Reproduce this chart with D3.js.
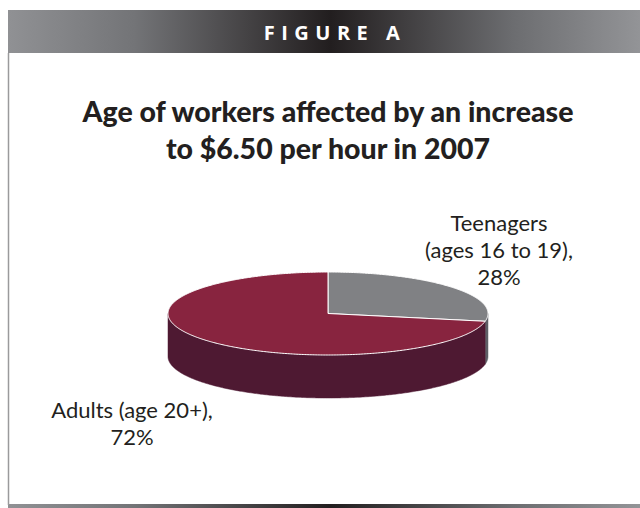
<!DOCTYPE html>
<html>
<head>
<meta charset="utf-8">
<script src="https://cdn.jsdelivr.net/npm/d3@7"></script>
<style>
  html, body { margin: 0; padding: 0; background: #fff; }
  svg { display: block; }
</style>
</head>
<body>
<svg id="chart" width="640" height="508"></svg>
<script>
const figureLabel = "FIGURE A";
const titleLines = ["Age of workers affected by an increase", "to $6.50 per hour in 2007"];
const categories = ["Teenagers (ages 16 to 19)", "Adults (age 20+)"];
const values = [28, 72];
const labelLines = [["Teenagers", "(ages 16 to 19),", "28%"], ["Adults (age 20+),", "72%"]];
const topColors = ["#808184", "#88243f"];
const sideColors = ["#5d5f66", "#4e1932"];

const svg = d3.select("#chart");
const W = 640, H = 508;

const defs = svg.append("defs");
const grad = defs.append("linearGradient").attr("id", "barGrad")
  .attr("x1", "0%").attr("x2", "100%").attr("y1", "0%").attr("y2", "0%");
grad.append("stop").attr("offset", "0%").attr("stop-color", "#909194");
grad.append("stop").attr("offset", "20%").attr("stop-color", "#737477");
grad.append("stop").attr("offset", "51%").attr("stop-color", "#221e1f");
grad.append("stop").attr("offset", "80%").attr("stop-color", "#6c6d70");
grad.append("stop").attr("offset", "100%").attr("stop-color", "#939497");

svg.append("rect").attr("x", 8).attr("y", 10).attr("width", W - 8).attr("height", 43).attr("fill", "url(#barGrad)");
svg.append("rect").attr("x", 8).attr("y", 504).attr("width", W - 8).attr("height", 4).attr("fill", "url(#barGrad)");
svg.append("line").attr("x1", 8.5).attr("x2", 8.5).attr("y1", 53).attr("y2", 505)
  .attr("stroke", "#9a9a9c").attr("stroke-width", 1.5);

svg.append("text").attr("x", 335).attr("y", 40)
  .attr("text-anchor", "middle")
  .attr("font-family", "'Open Sans', sans-serif").attr("font-weight", 700)
  .attr("font-size", 20).attr("letter-spacing", 6.5).attr("fill", "#fff")
  .text(figureLabel);

const title = svg.append("text").attr("text-anchor", "middle")
  .attr("font-family", "Lato, 'Open Sans', sans-serif").attr("font-weight", 900)
  .attr("font-size", 28.5).attr("fill", "#231f20");
titleLines.forEach((t, i) => {
  title.append("tspan").attr("x", 328).attr("y", 122 + i * 37).text(t);
});

const cx = 328, cy = 313.5, rx = 160, ry = 41.5, depth = 43;
const pie = d3.pie().sort(null).value(d => d)(values);
const px = a => cx + rx * Math.sin(a);
const py = a => cy - ry * Math.cos(a);

function arcPoints(a0, a1, dy) {
  const n = Math.max(2, Math.ceil((a1 - a0) / 0.01));
  const pts = [];
  for (let i = 0; i <= n; i++) {
    const a = a0 + (a1 - a0) * i / n;
    pts.push([px(a), py(a) + dy]);
  }
  return pts;
}

const line = d3.line();
const g = svg.append("g");

pie.forEach((s, i) => {
  const a0 = Math.max(s.startAngle, Math.PI / 2);
  const a1 = Math.min(s.endAngle, 3 * Math.PI / 2);
  if (a1 <= a0) return;
  const top = arcPoints(a0, a1, 0);
  const bottom = arcPoints(a0, a1, depth).reverse();
  g.append("path").attr("d", line(top.concat(bottom)) + "Z")
    .attr("fill", sideColors[i]).attr("stroke", sideColors[i]).attr("stroke-width", 0.5);
});

pie.forEach((s, i) => {
  const pts = [[cx, cy]].concat(arcPoints(s.startAngle, s.endAngle, 0));
  g.append("path").attr("d", line(pts) + "Z")
    .attr("fill", topColors[i]).attr("stroke", "#ffffff").attr("stroke-width", 1)
    .attr("stroke-linejoin", "round");
});

const labelPos = [{ x: 499, y: 231 }, { x: 132, y: 418 }];
labelLines.forEach((lines, i) => {
  const t = svg.append("text").attr("text-anchor", "middle")
    .attr("font-family", "Lato, 'Open Sans', sans-serif").attr("font-size", 22)
    .attr("fill", "#231f20");
  lines.forEach((l, j) => {
    t.append("tspan").attr("x", labelPos[i].x).attr("y", labelPos[i].y + j * 27).text(l);
  });
});
</script>
</body>
</html>
